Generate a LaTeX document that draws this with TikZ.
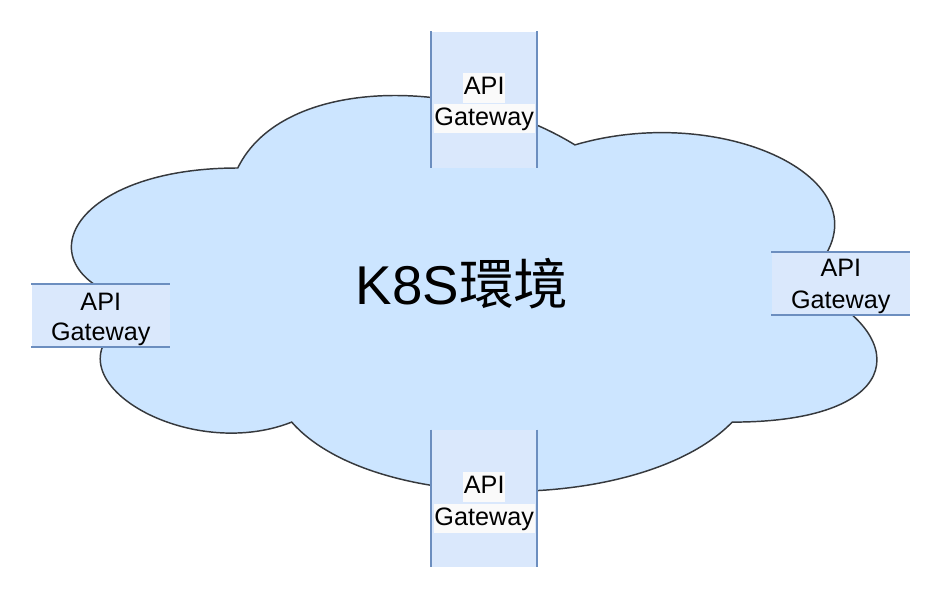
\documentclass[tikz,border=0pt]{standalone}
\usepackage{fontspec}
\setmainfont{Liberation Sans}
\newfontfamily\cjk{Noto Sans CJK TC}
\definecolor{cloudfill}{HTML}{CCE5FF}
\definecolor{cloudline}{HTML}{36393D}
\definecolor{gwfill}{HTML}{DAE8FC}
\definecolor{gwline}{HTML}{6C8EBF}
\definecolor{labelbg}{HTML}{FAFAFA}
\tikzset{
  cloudshape/.style={draw=cloudline, fill=cloudfill, line width=1.1pt},
  gateway/.style={fill=gwfill, draw=none, inner sep=0pt},
  vgateway/.style={gateway, minimum width=78.75pt, minimum height=102.5pt},
  hgateway/.style={gateway, minimum width=103.7pt, minimum height=47.25pt},
  gwedge/.style={draw=gwline, line width=1.5pt},
  gwlabel/.style={inner xsep=0.5pt, inner ysep=2pt, text height=14pt,
    text depth=4.2pt, font=\fontsize{18.9}{22.7}\selectfont},
  gwlabelbg/.style={gwlabel, fill=labelbg},
}

\begin{document}
\begin{tikzpicture}[x=0.75pt, y=-0.75pt]
  \useasboundingbox (0,0) rectangle (948,592);

  % Cloud
  \draw[cloudshape] (237.75,168)
    .. controls (57.95,168) and (13,283.5) .. (156.84,306.6)
    .. controls (13,357.42) and (174.82,468.3) .. (291.69,422.1)
    .. controls (372.6,514.5) and (642.3,514.5) .. (732.2,422.1)
    .. controls (912,422.1) and (912,329.7) .. (799.6,283.5)
    .. controls (912,191.1) and (732.2,98.7) .. (574.9,144.9)
    .. controls (462.5,75.6) and (282.7,75.6) .. (237.75,168) -- cycle;
  \node[font=\fontsize{41}{49}\selectfont] (k8s) at (462, 283.5) {K8S{\cjk 環境}};

  % Gateways
  \node[vgateway] (gwtop) at (484.2, 99.85) {};
  \node[vgateway] (gwbottom) at (484.2, 498.3) {};
  \node[hgateway] (gwleft) at (100.8, 315.3) {};
  \node[hgateway] (gwright) at (840.8, 283.3) {};

  \draw[gwedge] (gwtop.north west) -- (gwtop.south west);
  \draw[gwedge] (gwtop.north east) -- (gwtop.south east);
  \draw[gwedge] (gwbottom.north west) -- (gwbottom.south west);
  \draw[gwedge] (gwbottom.north east) -- (gwbottom.south east);
  \draw[gwedge] (gwleft.north west) -- (gwleft.north east);
  \draw[gwedge] (gwleft.south west) -- (gwleft.south east);
  \draw[gwedge] (gwright.north west) -- (gwright.north east);
  \draw[gwedge] (gwright.south west) -- (gwright.south east);

  % Labels
  \node[gwlabelbg] (gwtop-api) at (484.2, 88) {API};
  \node[gwlabelbg] (gwtop-gw) at (484.2, 118.5) {Gateway};
  \node[gwlabelbg] (gwbottom-api) at (484.2, 487) {API};
  \node[gwlabelbg] (gwbottom-gw) at (484.2, 518.5) {Gateway};
  \node[gwlabel] (gwleft-api) at (100.8, 303.5) {API};
  \node[gwlabel] (gwleft-gw) at (100.8, 333.5) {Gateway};
  \node[gwlabel] (gwright-api) at (840.8, 270) {API};
  \node[gwlabel] (gwright-gw) at (840.8, 302) {Gateway};
\end{tikzpicture}
\end{document}
